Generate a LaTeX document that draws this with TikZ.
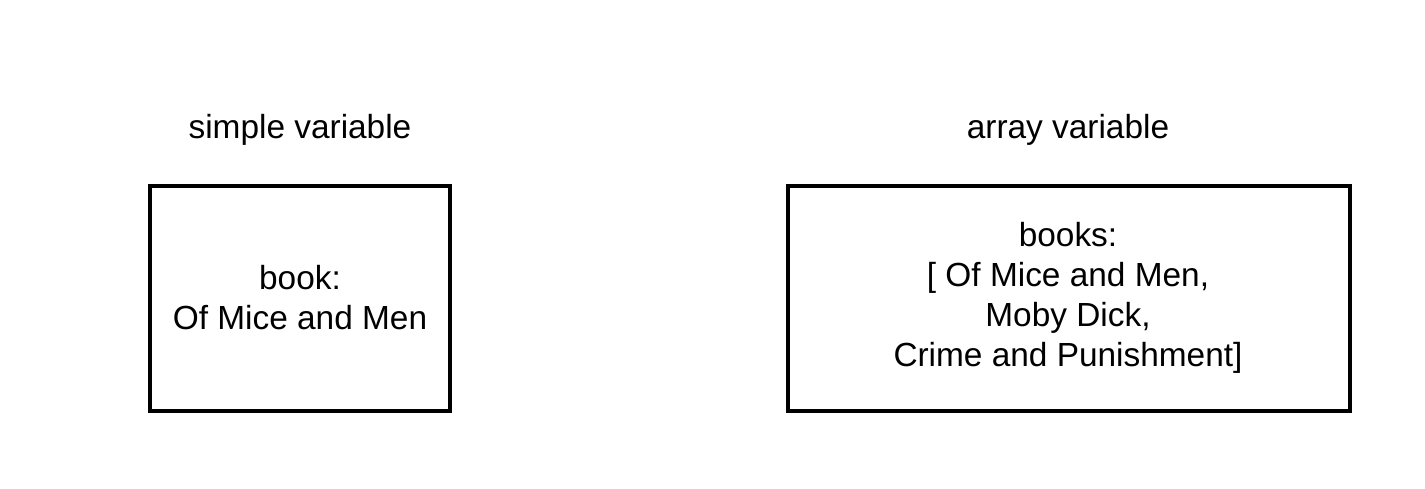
\documentclass[tikz,border=0pt]{standalone}
\usepackage{fontspec}
\setmainfont{Liberation Sans}
\begin{document}
\begin{tikzpicture}[x=0.5pt,y=-0.5pt,
  box/.style={draw,line width=1.6pt},
  lbl/.style={font=\fontsize{16.7pt}{20pt}\selectfont,align=center,inner sep=0pt},
  ttl/.style={font=\fontsize{16.7pt}{20pt}\selectfont,inner sep=0pt}]
\useasboundingbox (0,0) rectangle (1425,488);
\node[ttl] (t1) at (300,130) {simple variable};
\node[ttl] (t2) at (1068,130) {array variable};
\draw[box] (150,186) rectangle (450,411);
\draw[box] (788,186) rectangle (1350,411);
\node[lbl] (b1) at (300,298) {book:\\ Of Mice and Men};
\node[lbl] (b2) at (1068,298) {books:\\ {[} Of Mice and Men,\\ Moby Dick,\\ Crime and Punishment{]}};
\end{tikzpicture}
\end{document}
